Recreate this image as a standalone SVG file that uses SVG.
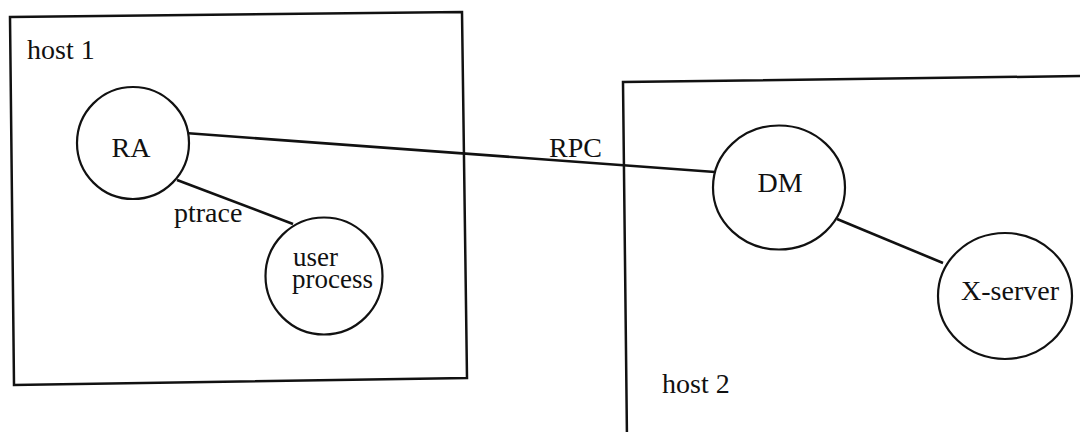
<svg xmlns="http://www.w3.org/2000/svg" width="1080" height="432" viewBox="0 0 1080 432">
<style>
.box{fill:none;stroke:#111;stroke-width:2.5}
.node{fill:#fff;stroke:#111;stroke-width:2.2}
.edge{fill:none;stroke:#111;stroke-width:2.6}
text{font-family:"Liberation Serif","Times New Roman",serif;font-size:28px;fill:#111}
.c{text-anchor:middle}
.s{font-size:27px}
</style>
<rect width="1080" height="432" fill="#fff"/>
<g id="host1">
<polygon class="box" points="10,17 462,12 467,378 14,385"/>
<text x="27" y="59">host 1</text>
</g>
<g id="host2">
<path class="box" d="M627,440 L623,82 L1085,76"/>
<text x="662" y="393">host 2</text>
</g>
<g id="connectors">
<line class="edge" x1="185" y1="133" x2="715" y2="172"/>
<line class="edge" x1="177" y1="180" x2="293" y2="224"/>
<line class="edge" x1="837" y1="219" x2="943" y2="263"/>
<text x="549" y="157">RPC</text>
<text x="174" y="222">ptrace</text>
</g>
<g id="RA">
<circle class="node" cx="133" cy="143" r="56"/>
<text class="c" x="131" y="157">RA</text>
</g>
<g id="userprocess">
<circle class="node" cx="324" cy="276" r="58.5"/>
<text class="s" x="293" y="266">user</text>
<text class="s" x="292" y="288">process</text>
</g>
<g id="DM">
<ellipse class="node" cx="779" cy="187.5" rx="66" ry="62"/>
<text class="c" x="780" y="192">DM</text>
</g>
<g id="Xserver">
<ellipse class="node" cx="1005" cy="296" rx="67" ry="63"/>
<text class="c" x="1010" y="300">X-server</text>
</g>
</svg>
